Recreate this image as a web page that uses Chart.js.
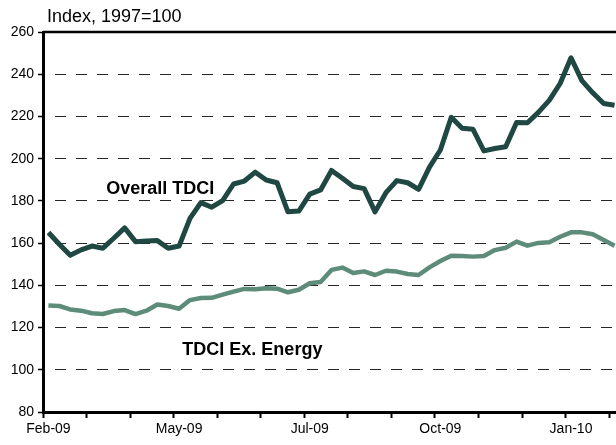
<!DOCTYPE html>
<html>
<head>
<meta charset="utf-8">
<script src="https://cdn.jsdelivr.net/npm/chart.js@4"></script>
<style>
  html, body { margin: 0; padding: 0; background: #fff; overflow: hidden; width: 616px; height: 445px; }
  canvas { display: block; }
</style>
</head>
<body>
<canvas id="c" width="621" height="445"></canvas>
<script>
// Weekly observations (week ending dates)
const weeks = [
  '2009-02-06','2009-02-13','2009-02-20','2009-02-27','2009-03-06','2009-03-13','2009-03-20','2009-03-27',
  '2009-04-03','2009-04-10','2009-04-17','2009-04-24','2009-05-01','2009-05-08','2009-05-15','2009-05-22',
  '2009-05-29','2009-06-05','2009-06-12','2009-06-19','2009-06-26','2009-07-03','2009-07-10','2009-07-17',
  '2009-07-24','2009-07-31','2009-08-07','2009-08-14','2009-08-21','2009-08-28','2009-09-04','2009-09-11',
  '2009-09-18','2009-09-25','2009-10-02','2009-10-09','2009-10-16','2009-10-23','2009-10-30','2009-11-06',
  '2009-11-13','2009-11-20','2009-11-27','2009-12-04','2009-12-11','2009-12-18','2009-12-25','2010-01-01',
  '2010-01-08','2010-01-15','2010-01-22','2010-01-29','2010-02-05'
];

const overallTDCI = [165, 159.5, 154.2, 156.8, 158.6, 157.6, 162.3, 167.2, 160.7, 161, 161.2, 157.6, 158.6,
  171.7, 179.2, 177, 180.1, 188, 189.4, 193.6, 189.9, 188.6, 174.8, 175.2, 183.2, 185.2, 194.4, 190.7,
  186.8, 185.8, 174.8, 183.9, 189.6, 188.6, 185.5, 196, 204.1, 219.6, 214.4, 213.9, 203.7, 204.8, 205.6,
  217.1, 217, 221.9, 227.6, 235.6, 247.8, 237, 231.2, 226.1, 225.3];

const tdciExEnergy = [130.5, 130.2, 128.6, 128, 126.8, 126.4, 127.8, 128.3, 126.4, 128, 130.9, 130.2, 128.9,
  133, 134, 134.1, 135.6, 137, 138.3, 138.1, 138.6, 138.4, 136.7, 137.9, 141, 141.6, 147.3, 148.4,
  145.8, 146.6, 144.9, 146.9, 146.5, 145.4, 144.9, 148.5, 151.5, 154, 153.9, 153.6, 153.9, 156.7, 157.8,
  160.7, 158.8, 160.1, 160.4, 163, 165.1, 165.1, 164.2, 161.5, 158.8];

const xTickLabels = ['Feb-09', 'May-09', 'Jul-09', 'Oct-09', 'Jan-10'];
const yTicks = [80, 100, 120, 140, 160, 180, 200, 220, 240, 260];
const unitLabel = 'Index, 1997=100';
const seriesLabels = [
  { text: 'Overall TDCI', x: 5.3, y: 183.5 },
  { text: 'TDCI Ex. Energy', x: 12.3, y: 107.2 }
];

const FONT = "'Liberation Sans', Arial, Helvetica, sans-serif";

const decor = {
  id: 'decor',
  afterDatasetsDraw(chart) {
    const { ctx, chartArea, scales } = chart;
    ctx.save();
    // solid top frame line
    ctx.strokeStyle = '#000';
    ctx.lineWidth = 2.5;
    ctx.beginPath();
    ctx.moveTo(chartArea.left, chartArea.top);
    ctx.lineTo(chartArea.right + 5, chartArea.top);
    ctx.stroke();
    // series labels
    ctx.fillStyle = '#000';
    ctx.font = 'bold 18px ' + FONT;
    ctx.textBaseline = 'alphabetic';
    ctx.textAlign = 'left';
    seriesLabels.forEach(l => {
      ctx.fillText(l.text, scales.x.getPixelForValue(l.x), scales.y.getPixelForValue(l.y));
    });
    // unit label
    ctx.font = '18px ' + FONT;
    ctx.fillText(unitLabel, chartArea.left + 4, chartArea.top - 10.5);
    ctx.restore();
  }
};

new Chart(document.getElementById('c'), {
  type: 'line',
  data: {
    labels: weeks,
    datasets: [
      {
        label: 'TDCI Ex. Energy',
        data: tdciExEnergy,
        borderColor: '#5e8c7a',
        borderWidth: 4.5,
        pointRadius: 0,
        tension: 0,
        borderJoinStyle: 'round'
      },
      {
        label: 'Overall TDCI',
        data: overallTDCI,
        borderColor: '#1f4843',
        borderWidth: 5,
        pointRadius: 0,
        tension: 0,
        borderJoinStyle: 'round'
      }
    ]
  },
  options: {
    responsive: false,
    animation: false,
    devicePixelRatio: 1,
    layout: { padding: { left: 0, right: 1, top: 32, bottom: 0 } },
    plugins: { legend: { display: false }, tooltip: { enabled: false }, title: { display: false } },
    scales: {
      x: {
        type: 'category',
        offset: true,
        afterFit(s) { s.height = 33; },
        grid: {
          offset: true,
          drawOnChartArea: false,
          drawTicks: true,
          tickLength: 6,
          tickWidth: 2,
          tickColor: (c) => (c.index % 4 === 0 ? '#000' : 'rgba(0,0,0,0)')
        },
        border: { display: true, color: '#000', width: 3 },
        ticks: {
          autoSkip: false,
          maxRotation: 0,
          minRotation: 0,
          padding: 3,
          color: '#000',
          font: { family: FONT, size: 14 },
          callback: (v, i) => (i % 12 === 0 ? xTickLabels[i / 12] : '')
        }
      },
      y: {
        min: yTicks[0],
        max: yTicks[yTicks.length - 1],
        afterFit(s) { s.width = 43; },
        afterBuildTicks(s) { s.ticks = yTicks.map(v => ({ value: v })); },
        grid: {
          color: 'rgba(0,0,0,0.85)',
          lineWidth: 1,
          drawTicks: true,
          tickLength: 5,
          tickWidth: 1.5,
          tickColor: '#000'
        },
        border: { display: true, color: '#000', width: 3, dash: [11, 10], dashOffset: 11 },
        ticks: {
          padding: 4,
          color: '#000',
          font: { family: FONT, size: 14 },
          stepSize: 20
        }
      }
    }
  },
  plugins: [decor]
});
</script>
</body>
</html>
